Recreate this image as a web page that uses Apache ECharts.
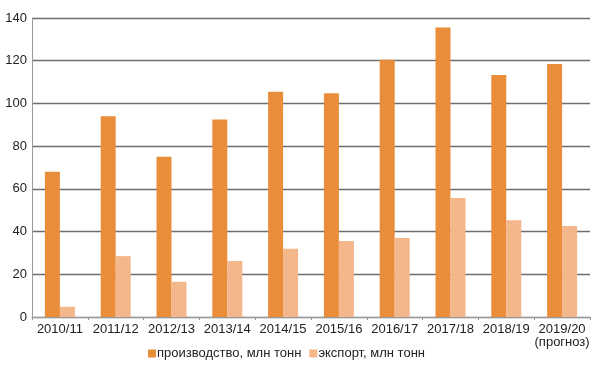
<!DOCTYPE html>
<html><head><meta charset="utf-8">
<script src="https://cdn.jsdelivr.net/npm/echarts@6/dist/echarts.min.js"></script>
<style>html,body{margin:0;padding:0;background:#fff}#c{width:600px;height:368px}</style>
</head><body><div id="c"></div>
<script>
var categories = ['2010/11','2011/12','2012/13','2013/14','2014/15','2015/16','2016/17','2017/18','2018/19','2019/20\n(прогноз)'];
var production = [68, 94, 75, 92.5, 105.5, 104.8, 120.5, 135.5, 113.3, 118.5];
var exportVals = [4.8, 28.5, 16.5, 26.2, 32, 35.6, 37, 55.7, 45.3, 42.6];
var yTicks = [0, 20, 40, 60, 80, 100, 120, 140];
var FONT = '"Liberation Sans Narrow", "Arial Narrow", "Liberation Sans", sans-serif';
var chart = echarts.init(document.getElementById('c'));
chart.setOption({
  animation: false,
  grid: {left: 32, right: 10, top: 18, bottom: 51, containLabel: false},
  legend: {
    top: 342, left: 143,
    itemWidth: 8, itemHeight: 8, itemGap: 8,
    icon: 'rect',
    textStyle: {fontFamily: FONT, fontSize: 13, color: '#222', padding: [0,0,0,-4]},
    data: ['производство, млн тонн', 'экспорт, млн тонн']
  },
  xAxis: {
    type: 'category', data: categories,
    axisLine: {lineStyle: {color: '#999', width: 1}},
    axisTick: {show: true, length: 3, lineStyle: {color: '#999'}},
    axisLabel: {fontFamily: FONT, fontSize: 13, color: '#222', margin: 6, lineHeight: 13, interval: 0}
  },
  yAxis: {
    type: 'value', min: yTicks[0], max: yTicks[yTicks.length-1], interval: 20,
    axisLine: {show: true, lineStyle: {color: '#999', width: 1}},
    axisTick: {show: false},
    axisLabel: {fontFamily: FONT, fontSize: 13, color: '#222', margin: 5},
    splitLine: {lineStyle: {color: '#6e6e6e', width: 1.3}}
  },
  series: [
    {name: 'производство, млн тонн', type: 'bar', data: production, barWidth: 15, barGap: '0%',
     itemStyle: {color: '#EA8D3A'}},
    {name: 'экспорт, млн тонн', type: 'bar', data: exportVals, barWidth: 15,
     itemStyle: {color: '#F4B68B'}}
  ]
});
</script></body></html>
